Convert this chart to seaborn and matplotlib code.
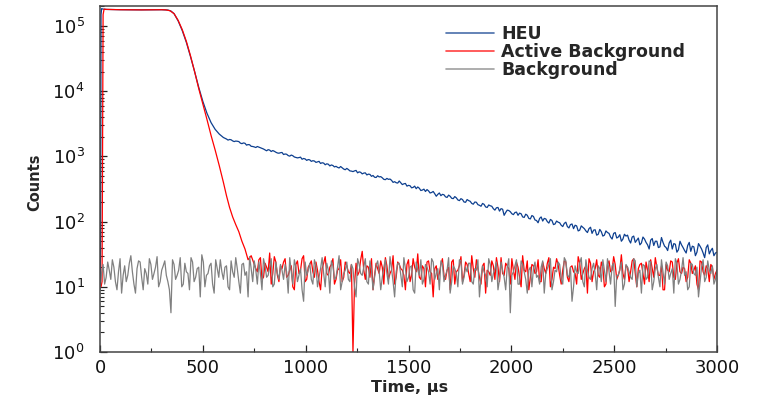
import numpy as np
import pandas as pd
import matplotlib
matplotlib.use("Agg")
import matplotlib.pyplot as plt
from matplotlib.ticker import LogLocator, MultipleLocator, LogFormatterMathtext
import seaborn as sns

# ---------------- data ----------------
# HEU: start + decay (explicit points), then noisy tail (15 us grid + offset grid)
heu_t_head = [0, 3, 5, 8, 15, 30, 100, 200, 300, 330, 345, 360, 380, 400, 420, 440,
              460, 480, 500, 520, 540, 560, 580, 600]
heu_v_head = [10, 40, 150000, 185000, 182000, 180000, 178000, 177000, 178000, 176000,
              170000, 155000, 120000, 85000, 56000, 34000, 20000, 11500, 7000, 4600,
              3300, 2600, 2200, 1950]
# t = 615, 630, ..., 3000
heu_v_tail = [1850, 1820, 1730, 1720, 1690, 1570, 1590, 1520, 1430, 1400,
              1420, 1360, 1300, 1220, 1250, 1230, 1160, 1120, 1150, 1090,
              1030, 1050, 980, 950, 975, 930, 870, 885, 860, 810,
              840, 800, 745, 760, 740, 690, 680, 700, 640, 655,
              600, 585, 610, 580, 540, 560, 535, 495, 480, 505,
              490, 445, 460, 450, 400, 395, 420, 370, 385, 360,
              330, 350, 340, 300, 315, 310, 275, 290, 245, 275,
              262, 240, 255, 228, 242, 215, 225, 200, 218, 205,
              185, 198, 178, 190, 168, 180, 172, 150, 165, 158,
              125, 150, 142, 128, 140, 135, 118, 130, 112, 124,
              106, 96, 118, 112, 100, 108, 90, 102, 96, 84,
              98, 80, 92, 88, 72, 86, 78, 68, 82, 74,
              62, 76, 60, 72, 66, 54, 68, 58, 50, 64,
              62, 47, 60, 52, 44, 58, 48, 38, 55, 50,
              40, 57, 42, 36, 52, 46, 34, 50, 40, 33,
              48, 42, 30, 46, 38, 28, 44, 36, 30, 34]
# t = 622.5, 637.5, ..., 2992.5
heu_v_tail_b = [1780, 1800, 1690, 1710, 1600, 1610, 1490, 1510, 1420, 1370,
                1390, 1330, 1260, 1270, 1190, 1200, 1130, 1140, 1070, 1080,
                1010, 1025, 965, 960, 905, 915, 895, 840, 850, 825,
                780, 790, 770, 715, 725, 705, 665, 670, 625, 630,
                595, 600, 560, 570, 555, 520, 530, 510, 475, 485,
                470, 440, 445, 430, 410, 390, 395, 380, 350, 355,
                335, 320, 325, 305, 290, 296, 280, 268, 262, 250,
                258, 235, 245, 225, 232, 210, 218, 198, 210, 190,
                200, 182, 172, 184, 165, 175, 158, 163, 145, 155,
                138, 148, 132, 138, 125, 132, 116, 125, 110, 120,
                104, 112, 102, 110, 95, 104, 92, 98, 88, 94,
                84, 90, 78, 86, 74, 82, 72, 78, 66, 75,
                64, 70, 62, 68, 58, 66, 56, 63, 54, 60,
                52, 58, 48, 56, 47, 54, 44, 52, 43, 50,
                41, 48, 40, 47, 38, 45, 37, 44, 36, 43,
                35, 41, 34, 42, 33, 40, 32, 39, 33]

# Active background: start + steep decay, then noisy tail
act_t_head = [0, 5, 10, 15, 20, 30, 100, 200, 300, 320, 340, 360, 380, 400, 420, 440,
              460, 480, 500, 520, 540, 560, 580, 600, 615, 630, 645, 660, 675, 690,
              705, 720, 735]
act_v_head = [10, 10, 12, 150000, 182000, 180000, 178000, 177000, 178000, 177000,
              172000, 155000, 122000, 88000, 58000, 35000, 20000, 11000, 6400, 3700,
              2100, 1250, 720, 400, 250, 165, 118, 90, 70, 50, 38, 26, 30]
# t = 750, 765, ..., 3000
act_v_tail = [22, 17, 28, 14, 20, 33, 16, 24, 12, 19, 27, 15, 21, 9, 25, 18, 30, 13, 22, 17,
              24, 12, 19, 29, 15, 22, 11, 18, 26, 14, 21, 16, 1, 23, 17, 35, 13, 20, 27, 15,
              19, 25, 11, 21, 16, 30, 14, 22, 18, 9, 26, 15, 20, 32, 13, 19, 24, 17, 7, 21,
              16, 27, 13, 20, 24, 11, 18, 29, 15, 22, 12, 19, 26, 14, 21, 8, 17, 25, 13, 20,
              28, 15, 21, 11, 18, 24, 14, 30, 17, 9, 22, 16, 26, 12, 19, 23, 10, 20, 27, 15,
              18, 24, 12, 21, 16, 29, 13, 19, 8, 23, 17, 26, 14, 20, 11, 25, 18, 22, 15, 31,
              13, 20, 17, 27, 10, 22, 16, 24, 12, 19, 28, 15, 21, 9, 18, 25, 14, 23, 17, 20,
              12, 26, 16, 21, 9, 24, 15, 19, 22, 13, 18]
# t = 757.5, 772.5, ..., 2992.5
act_v_tail_b = [19, 26, 13, 23, 17, 11, 29, 15, 21, 24, 14, 18, 10, 22, 16, 27, 12, 20, 25, 14,
                18, 9, 23, 16, 20, 27, 13, 19, 12, 24, 17, 22, 11, 15, 26, 18, 21, 14, 9, 23,
                16, 20, 28, 13, 18, 11, 24, 19, 15, 22, 12, 27, 17, 14, 21, 10, 25, 16, 19, 13,
                22, 15, 18, 9, 26, 17, 21, 12, 24, 16, 30, 14, 19, 11, 23, 18, 15, 21, 28, 12,
                16, 23, 19, 27, 13, 20, 10, 18, 25, 14, 21, 17, 12, 24, 16, 28, 13, 19, 22, 11,
                25, 14, 20, 17, 11, 23, 16, 21, 27, 12, 19, 15, 24, 10, 22, 17, 29, 13, 18, 16,
                21, 12, 25, 16, 19, 23, 11, 18, 26, 14, 20, 15, 9, 22, 17, 24, 13, 27, 16, 19,
                14, 23, 18, 11, 25, 17, 21, 12, 20, 16]

# Background: t = 0, 15, ..., 3000
bkg_v = [9, 22, 14, 18, 26, 12, 17, 8, 21, 15, 30, 11, 19, 24, 9, 16, 27, 13, 20, 10,
         18, 25, 12, 4, 22, 15, 28, 11, 17, 9, 24, 14, 20, 31, 10, 16, 23, 8, 19, 26,
         13, 21, 9, 17, 28, 12, 22, 15, 7, 19, 25, 11, 16, 27, 14, 20, 10, 24, 13, 18,
         22, 8, 17, 26, 12, 19, 6, 15, 23, 11, 21, 14, 28, 10, 18, 25, 13, 20, 9, 16,
         24, 12, 19, 7, 22, 15, 27, 11, 18, 14, 25, 9, 20, 16, 29, 12, 17, 23, 10, 19,
         14, 21, 8, 18, 26, 13, 20, 11, 24, 16, 9, 22, 15, 28, 12, 19, 10, 25, 14, 17,
         23, 11, 18, 7, 21, 15, 27, 12, 19, 9, 24, 14, 20, 4, 17, 26, 11, 22, 13, 18,
         10, 24, 15, 20, 8, 19, 27, 12, 17, 22, 11, 25, 14, 6, 21, 16, 28, 10, 18, 13,
         23, 9, 19, 26, 12, 17, 21, 5, 15, 24, 11, 20, 14, 27, 10, 18, 22, 13, 25, 9,
         19, 14, 26, 11, 21, 16, 8, 23, 13, 28, 17, 10, 22, 15, 7, 20, 12, 25, 16, 11,
         18]
# Background: t = 7.5, 22.5, ..., 2992.5
bkg_v_b = [16, 11, 24, 13, 20, 9, 27, 15, 12, 23, 17, 8, 25, 14, 19, 11, 22, 16, 29, 12,
           21, 15, 9, 26, 13, 18, 10, 23, 16, 28, 12, 19, 7, 24, 15, 21, 11, 26, 14, 17,
           20, 10, 25, 14, 19, 8, 23, 17, 29, 12, 18, 24, 9, 21, 15, 27, 11, 16, 22, 13,
           17, 28, 11, 20, 15, 9, 24, 18, 13, 26, 10, 19, 16, 23, 8, 21, 14, 30, 12, 18,
           13, 22, 10, 27, 16, 20, 12, 25, 9, 21, 17, 14, 26, 11, 19, 7, 23, 15, 28, 12,
           20, 9, 24, 15, 11, 22, 17, 27, 13, 19, 25, 12, 18, 8, 21, 16, 26, 11, 20, 23,
           12, 19, 26, 14, 17, 10, 22, 16, 24, 13, 18, 9, 27, 15, 21, 11, 25, 17, 8, 20,
           19, 14, 11, 25, 16, 22, 9, 18, 24, 13, 28, 15, 20, 10, 17, 23, 12, 26, 14, 19,
           16, 21, 12, 18, 27, 11, 23, 15, 19, 9, 22, 17, 13, 25, 16, 8, 21, 14, 24, 12,
           22, 10, 17, 24, 13, 19, 27, 11, 18, 15, 9, 23, 16, 20, 12, 26, 14, 18, 21, 13]

series_names = ["HEU", "Active Background", "Background"]
series_colors = ["#0d3f8f", "#ff0000", "#808080"]
x_ticks = [0, 500, 1000, 1500, 2000, 2500, 3000]

heu_t = heu_t_head + list(range(615, 3001, 15)) + [622.5 + 15 * k for k in range(len(heu_v_tail_b))]
heu_v = heu_v_head + heu_v_tail + heu_v_tail_b
act_t = act_t_head + list(range(750, 3001, 15)) + [757.5 + 15 * k for k in range(len(act_v_tail_b))]
act_v = act_v_head + act_v_tail + act_v_tail_b
bkg_t = list(range(0, 3001, 15)) + [7.5 + 15 * k for k in range(len(bkg_v_b))]
bkg_all = bkg_v + bkg_v_b
assert len(heu_t) == len(heu_v) and len(act_t) == len(act_v) and len(bkg_t) == len(bkg_all)

df = pd.concat([
    pd.DataFrame({"t": heu_t, "c": heu_v, "s": series_names[0]}),
    pd.DataFrame({"t": act_t, "c": act_v, "s": series_names[1]}),
    pd.DataFrame({"t": bkg_t, "c": bkg_all, "s": series_names[2]}),
], ignore_index=True)

# ---------------- plot ----------------
sns.set_style("ticks")
plt.rcParams["font.family"] = ["DejaVu Sans"]
plt.rcParams["mathtext.default"] = "regular"

fig = plt.figure(figsize=(7.64, 4.0), dpi=100)
ax = fig.add_axes([100 / 764, 48 / 400, 617 / 764, 346 / 400])

for name, col in zip(series_names, series_colors):
    sub = df[df["s"] == name].sort_values("t")
    sns.lineplot(data=sub, x="t", y="c", ax=ax, color=col, lw=0.9,
                 label=name, estimator=None, sort=False)

ax.set_yscale("log")
ax.set_ylim(1, 2.03e5)
ax.set_xlim(0, 3000)
ax.set_xticks(x_ticks)
ax.xaxis.set_minor_locator(MultipleLocator(250))
ax.yaxis.set_major_locator(LogLocator(base=10, numticks=10))
ax.yaxis.set_major_formatter(LogFormatterMathtext())
ax.yaxis.set_minor_locator(LogLocator(base=10, subs=np.arange(2, 10), numticks=20))

ax.tick_params(axis="both", which="major", direction="in", length=5, width=0.9,
               labelsize=13, colors="#222222", labelcolor="#111111", top=False, right=False)
ax.tick_params(axis="both", which="minor", direction="in", length=3, width=0.8,
               top=False, right=False)
ax.tick_params(axis="x", which="major", pad=5)
ax.tick_params(axis="y", which="major", pad=11)
for sp in ax.spines.values():
    sp.set_visible(True)
    sp.set_color("#444444")
    sp.set_linewidth(1.1)

ax.set_xlabel("Time, μs", fontsize=11.5, fontweight="bold")
ax.set_ylabel("Counts", fontsize=10.5, fontweight="bold")
ax.xaxis.set_label_coords((410 - 100) / 617, -(380 - 352) / 346)
ax.yaxis.set_label_coords((42 - 100) / 617, (352 - 182) / 346)

leg = ax.legend(loc="upper left", bbox_to_anchor=(437 / 764, 1 - 16 / 400),
                bbox_transform=fig.transFigure, frameon=False,
                prop={"weight": "bold", "size": 12.5}, handlelength=2.8,
                handletextpad=0.4, labelspacing=0.02, borderpad=0)
for line in leg.get_lines():
    line.set_linewidth(1.2)
    line.set_alpha(0.75)

fig.savefig("out.png", dpi=100)
